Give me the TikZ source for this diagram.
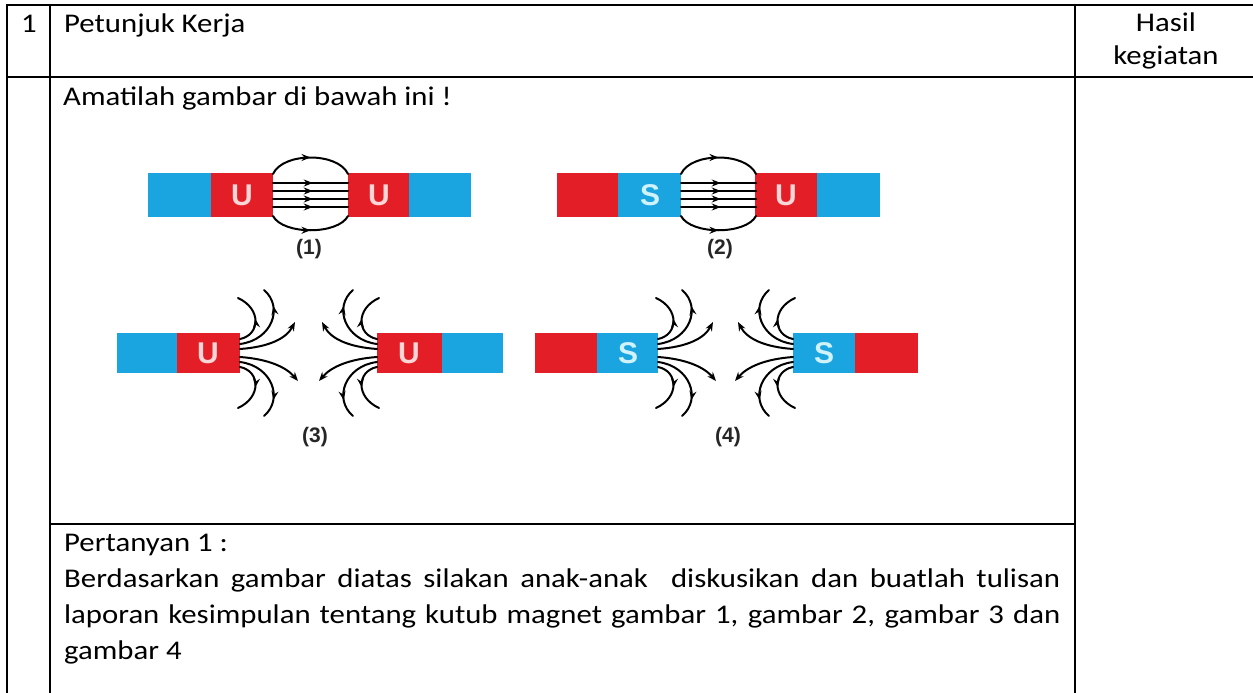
\documentclass[tikz,border=0pt]{standalone}
\usepackage{fontspec}
\setmainfont{Carlito}[FakeStretch=1.14]
\newfontfamily\polefont{Liberation Sans}
\usetikzlibrary{arrows.meta,decorations.markings}

\definecolor{polered}{RGB}{228,30,38}
\definecolor{poleblue}{RGB}{27,165,224}
\definecolor{pinkletter}{RGB}{250,214,214}
\definecolor{cyanletter}{RGB}{208,242,250}

\tikzset{
  grid line/.style={line width=2pt},
  cell text/.style={inner sep=0pt, font=\fontsize{27}{33}\selectfont},
  pole/.style={inner sep=0pt, font=\polefont\bfseries\fontsize{30}{30}\selectfont},
  caption/.style={inner sep=0pt, text=black!85, font=\polefont\bfseries\fontsize{21}{21}\selectfont},
  fieldline/.style={line width=2pt, line cap=round},
  midarrow/.style={postaction={decorate}, decoration={markings,
      mark=at position #1 with {\arrow{Stealth[length=9pt,width=7pt]}}}},
  midarrow/.default=0.5,
  tiparrow/.style={-{Stealth[length=9pt,width=7pt]}},
  % lines between two facing poles, origin at the left face
  gapfield/.pic={
    \draw[fieldline, midarrow] (0,-21) .. controls (10,-43) and (65,-43) .. (75,-21);
    \draw[fieldline, midarrow] (0,21) .. controls (10,40) and (65,40) .. (75,21);
    \foreach \y in {-12,-4,4,12}
      \draw[fieldline, midarrow=0.53] (0,\y) -- (75,\y);
  },
  % lines spreading out of one pole face, origin at the face
  fan/.pic={
    \draw[fieldline, midarrow] (0,-14) .. controls (20,-18) and (22,-44) .. (-2,-55);
    \draw[fieldline, midarrow=0.75] (0,-9) .. controls (32,-13) and (44,-46) .. (24,-63);
    \draw[fieldline, tiparrow] (0,-4) .. controls (28,-6) and (46,-14) .. (55,-31);
    \draw[fieldline, midarrow] (0,14) .. controls (20,18) and (22,44) .. (-2,55);
    \draw[fieldline, midarrow=0.75] (0,9) .. controls (32,13) and (44,46) .. (24,63);
    \draw[fieldline, tiparrow] (0,4) .. controls (28,6) and (46,14) .. (58,28);
  }
}

\begin{document}
\begin{tikzpicture}[x=1pt, y=-1pt]
  \useasboundingbox (0,0) rectangle (1253,693);

  % table rules
  \draw[grid line] (6,5) -- (1253,5);
  \draw[grid line] (6,77) -- (1253,77);
  \draw[grid line] (50,524) -- (1075,524);
  \draw[grid line] (7,4) -- (7,693);
  \draw[grid line] (50,4) -- (50,693);
  \draw[grid line] (1075,4) -- (1075,693);

  % header row
  \node[cell text, anchor=base] (num) at (29,33) {1};
  \node[cell text, anchor=base west] (head) at (64,33) {Petunjuk Kerja};
  \node[cell text, anchor=base, text width=170pt, align=center] (result) at (1166,32) {Hasil\\kegiatan};

  \node[cell text, anchor=base west] (intro) at (63,105) {Amatilah gambar di bawah ini !};

  % (1): U facing U
  \fill[poleblue] (148,173) rectangle (211,217);
  \fill[polered] (211,173) rectangle (273,217);
  \fill[polered] (348,173) rectangle (409,217);
  \fill[poleblue] (409,173) rectangle (471,217);
  \node[pole, text=pinkletter] (u1a) at (242,195) {U};
  \node[pole, text=pinkletter] (u1b) at (379,195) {U};
  \pic at (273,195) {gapfield};
  \node[caption] (lab1) at (309,249) {(1)};

  % (2): S facing U
  \fill[polered] (557,173) rectangle (618,217);
  \fill[poleblue] (618,173) rectangle (681,217);
  \fill[polered] (755,173) rectangle (817,217);
  \fill[poleblue] (817,173) rectangle (880,217);
  \node[pole, text=cyanletter] (s2a) at (650,195) {S};
  \node[pole, text=pinkletter] (u2b) at (786,195) {U};
  \pic at (681,195) {gapfield};
  \node[caption] (lab2) at (720,249) {(2)};

  % (3): U and U pushed apart
  \fill[poleblue] (117,333) rectangle (177,373);
  \fill[polered] (177,333) rectangle (240,373);
  \fill[polered] (377,333) rectangle (442,373);
  \fill[poleblue] (442,333) rectangle (503,373);
  \node[pole, text=pinkletter] (u3a) at (208,353) {U};
  \node[pole, text=pinkletter] (u3b) at (409,353) {U};
  \pic at (240,353) {fan};
  \pic[xscale=-1] at (377,353) {fan};
  \node[caption] (lab3) at (315,437) {(3)};

  % (4): S and S pushed apart
  \fill[polered] (535,333) rectangle (597,373);
  \fill[poleblue] (597,333) rectangle (658,373);
  \fill[poleblue] (793,333) rectangle (855,373);
  \fill[polered] (855,333) rectangle (918,373);
  \node[pole, text=cyanletter] (s4a) at (628,353) {S};
  \node[pole, text=cyanletter] (s4b) at (824,353) {S};
  \pic at (658,353) {fan};
  \pic[xscale=-1] at (793,353) {fan};
  \node[caption] (lab4) at (728,437) {(4)};

  % question cell
  \node[cell text, anchor=base west] (question) at (64,551) {Pertanyan 1 :};
  \node[cell text, font=\fontsize{27}{36}\selectfont, anchor=base west,
        text width=996pt, align=justify] (task) at (64,587)
    {\sloppy Berdasarkan gambar diatas silakan anak-anak~ diskusikan dan buatlah tulisan\linebreak
     laporan kesimpulan tentang kutub magnet gambar 1, gambar 2, gambar 3 dan\linebreak
     gambar 4};
\end{tikzpicture}
\end{document}
